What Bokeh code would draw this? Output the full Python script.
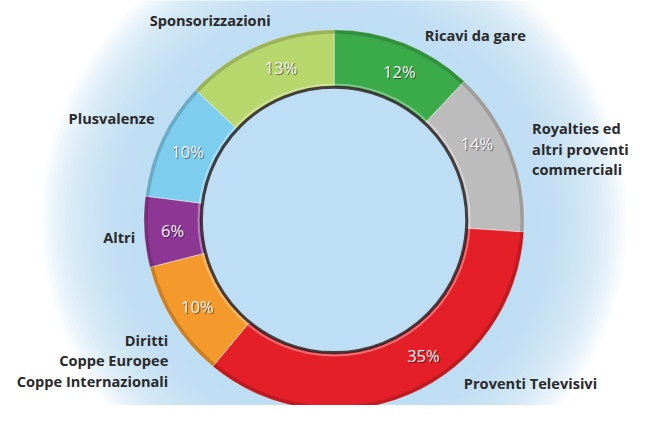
import numpy as np
from bokeh.plotting import figure
from bokeh.models import Range1d, ColumnDataSource
from bokeh.core.properties import value
from bokeh.embed import file_html
from bokeh.resources import INLINE

# ---- data (clockwise from 12 o'clock) ----
categories = [
    "Ricavi da gare",
    "Royalties ed\naltri proventi\ncommerciali",
    "Proventi Televisivi",
    "Diritti\nCoppe Europee\nCoppe Internazionali",
    "Altri",
    "Plusvalenze",
    "Sponsorizzazioni",
]
shares = [12, 14, 35, 10, 6, 10, 13]
colors = ["#3bab4a", "#bcbcbc", "#e41f27", "#f4992c", "#8d3794", "#7dcdee", "#b7d66b"]

# ---- layout (reference pixel coordinates) ----
W, H = 650, 421
CX, CY_PIX = 342, 225
R_OUT, R_IN = 195, 136
label_x = [435, 545, 475, 172, 138, 158, 215]
label_y = [35, 131, 392, 348, 242, 120, 20]
label_align = ["left", "left", "left", "right", "right", "right", "center"]
line_step = 21
pct_frac = [0.55, 0.37, 0.42, 0.5, 0.5, 0.5, 0.59]
pct_r = 166

PW, PH = 634, 405
scale = PW / W

def fy(ypix):
    return H - ypix

CY = fy(CY_PIX)

p = figure(width=PW, height=PH, output_backend="svg", toolbar_location=None,
           x_range=Range1d(0, W), y_range=Range1d(H - PH / scale, H),
           min_border=0)
p.axis.visible = False
p.grid.visible = False
p.outline_line_color = None
p.background_fill_color = "white"
p.border_fill_color = "white"

# soft watercolor-like blue background (radial fade)
radii = np.linspace(300, 185, 30)
p.circle(x=[CX] * len(radii), y=[CY] * len(radii), radius=radii,
         fill_color="#c0e3f5", fill_alpha=0.09, line_color=None)

# wedges
total = float(sum(shares))
cum = np.cumsum([0] + shares) / total
starts = np.pi / 2 - 2 * np.pi * cum[1:]
ends = np.pi / 2 - 2 * np.pi * cum[:-1]
src = ColumnDataSource(dict(start=starts, end=ends, color=colors))
p.annular_wedge(x=CX, y=CY, inner_radius=R_IN, outer_radius=R_OUT,
                start_angle="start", end_angle="end", fill_color="color",
                line_color="white", line_alpha=0.45, line_width=1, source=src)
# outer darker rim
p.annular_wedge(x=CX, y=CY, inner_radius=R_OUT - 4, outer_radius=R_OUT,
                start_angle="start", end_angle="end", fill_color="black",
                fill_alpha=0.16, line_color=None, source=src)
# inner highlight and shadow
p.circle(x=[CX], y=[CY], radius=R_IN + 3, fill_color=None,
         line_color="white", line_alpha=0.35, line_width=2)
p.circle(x=[CX], y=[CY], radius=R_IN, fill_color=None,
         line_color="#2b2222", line_alpha=0.85, line_width=3)

# percentage labels
mids = []
for i in range(len(shares)):
    f = cum[i] + (cum[i + 1] - cum[i]) * pct_frac[i]
    mids.append(np.pi / 2 - 2 * np.pi * f)
mids = np.array(mids)
px = CX + pct_r * np.cos(mids)
py = CY + pct_r * np.sin(mids)
pct_text = [f"{v}%" for v in shares]
p.text(x=px, y=py, text=pct_text, text_align="center", text_baseline="middle",
       text_font=value("Open Sans"), text_font_size="16.5px",
       text_color="black", text_alpha=0.5, x_offset=1, y_offset=1)
p.text(x=px, y=py, text=pct_text, text_align="center", text_baseline="middle",
       text_font=value("Open Sans"), text_font_size="16.5px",
       text_color="#f6f6f6")

# category labels
lx, ly, lt, la = [], [], [], []
for i, name in enumerate(categories):
    for j, line in enumerate(name.split("\n")):
        lx.append(label_x[i])
        ly.append(fy(label_y[i] + j * line_step))
        lt.append(line)
        la.append(label_align[i])
lsrc = ColumnDataSource(dict(x=lx, y=ly, t=lt, a=la))
p.text(x="x", y="y", text="t", text_align="a", text_baseline="middle",
       text_font=value("Open Sans"), text_font_size="14.6px", text_font_style="bold",
       text_color="#2a2a2a", source=lsrc)

open("out.html", "w").write(file_html(p, INLINE))
